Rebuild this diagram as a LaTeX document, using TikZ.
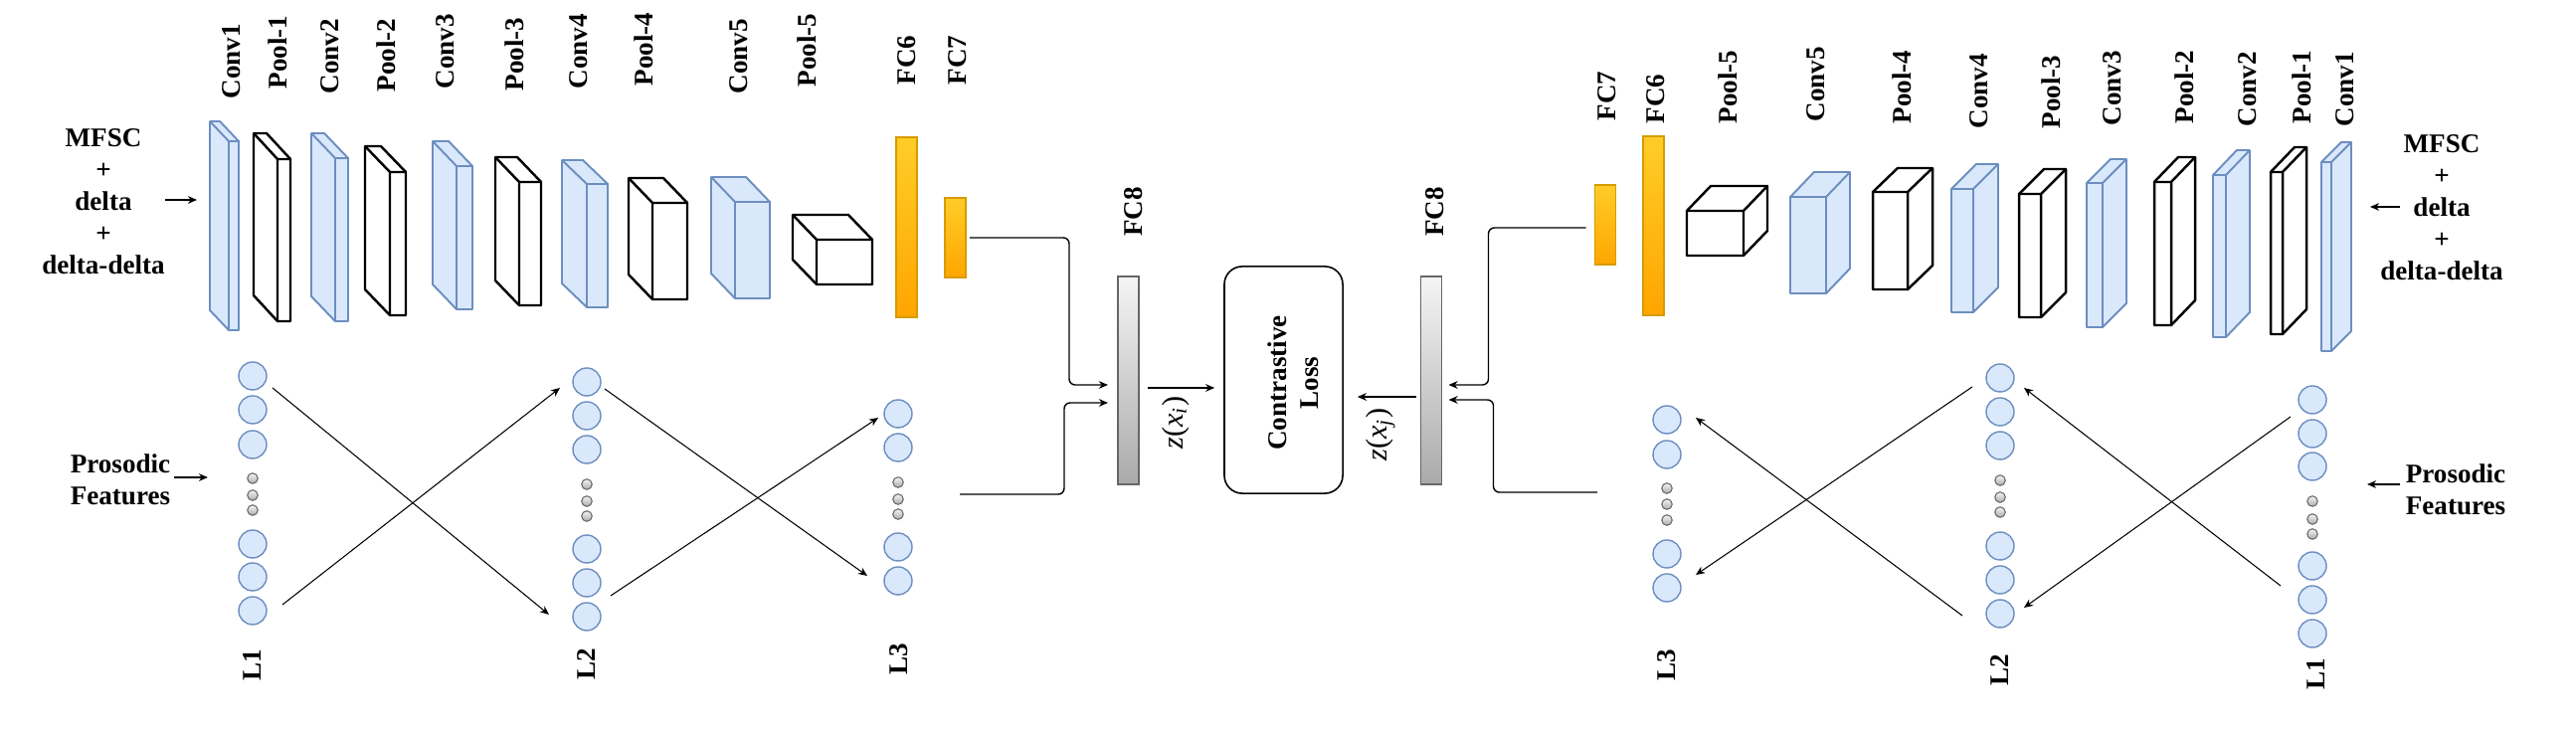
\documentclass[tikz,border=0pt]{standalone}
\usepackage{fontspec}
\setmainfont{Liberation Serif}
\usetikzlibrary{arrows.meta,calc}
\definecolor{blueF}{HTML}{DAE8FC}
\definecolor{blueD}{HTML}{6C8EBF}
\definecolor{orT}{HTML}{FFCD28}
\definecolor{orB}{HTML}{FFA500}
\definecolor{orD}{HTML}{D79B00}
\definecolor{grT}{HTML}{F5F5F5}
\definecolor{grB}{HTML}{AAAAAA}
\definecolor{grD}{HTML}{666666}
\tikzset{
  lbl/.style={font=\bfseries\fontsize{7.7}{9.1}\selectfont, inner sep=0pt},
  vlbl/.style={lbl, rotate=90},
  zlbl/.style={rotate=90, inner sep=0pt, font=\fontsize{8.6}{10}\selectfont},
  conn/.style={line width=0.4pt, -{Stealth[length=2.6pt,width=2.2pt]}},
  xline/.style={line width=0.3pt, -{Stealth[length=2.6pt,width=2.2pt]}},
  cslab/.style={fill=blueF, draw=blueD, line width=0.55pt, line join=round},
  pslab/.style={fill=white, draw=black, line width=0.7pt, line join=round},
  fcbar/.style={draw=orD, line width=0.55pt, top color=orT, bottom color=orB, minimum width=0.21cm, inner sep=0pt, outer sep=0pt},
  graybar/.style={draw=grD, line width=0.55pt, top color=grT, bottom color=grB, minimum width=0.21cm, minimum height=2.09cm, inner sep=0pt, outer sep=0pt},
  neuron/.style={circle, fill=blueF, draw=blueD, line width=0.4pt, minimum size=0.28cm, inner sep=0pt},
  dotn/.style={circle, top color=grT, bottom color=grB, draw=grD, line width=0.3pt, minimum size=0.105cm, inner sep=0pt},
}
\newcommand{\slabL}[8]{%
  \filldraw[#1] (#2-#6,#3-#7) -- (#4-#6,#3-#7) -- (#4,#3) -- (#4,#5) -- (#2,#5) -- (#2-#6,#5-#7) -- cycle;
  \draw[#1,fill=none] (#2-#6,#3-#7) -- (#2,#3) -- (#4,#3) (#2,#3) -- (#2,#5);
  \coordinate (#8) at ({(#2+#4)/2},{(#3+#5)/2});}
\newcommand{\slabR}[8]{%
  \filldraw[#1] (#2,#3) -- (#2+#6,#3-#7) -- (#4+#6,#3-#7) -- (#4+#6,#5-#7) -- (#4,#5) -- (#2,#5) -- cycle;
  \draw[#1,fill=none] (#2,#3) -- (#4,#3) -- (#4,#5) (#4,#3) -- (#4+#6,#3-#7);
  \coordinate (#8) at ({(#2+#4)/2},{(#3+#5)/2});}
\begin{document}
\begin{tikzpicture}[x=0.01cm, y=-0.01cm]
\useasboundingbox (0,0) rectangle (2590,734);

% ---------- input texts
\node[lbl, align=center] (mfscL) at (104,203) {MFSC\\+\\delta\\+\\delta-delta};
\node[lbl, align=center] (mfscR) at (2455,209) {MFSC\\+\\delta\\+\\delta-delta};
\node[lbl, align=center] (prosL) at (121,482) {Prosodic\\Features};
\node[lbl, align=center] (prosR) at (2469,492) {Prosodic\\Features};

% ---------- left CNN
\slabL{cslab}{230}{142}{240}{332}{19}{20}{cL1}
\slabL{pslab}{279}{160}{292}{323}{24}{26}{pL1}
\slabL{cslab}{337}{159}{350}{323}{24}{25}{cL2}
\slabL{pslab}{392}{173}{408}{317}{25}{26}{pL2}
\slabL{cslab}{459}{167}{475}{311}{24}{25}{cL3}
\slabL{pslab}{522}{183}{544}{307}{24}{25}{pL3}
\slabL{cslab}{590}{185}{611}{309}{25}{24}{cL4}
\slabL{pslab}{656}{204}{691}{301}{24}{25}{pL4}
\slabL{cslab}{739}{203}{774}{300}{24}{25}{cL5}
\slabL{pslab}{821}{241}{877}{286}{24}{25}{pL5}

% ---------- right CNN
\slabR{pslab}{1696}{212}{1753}{257}{24}{25}{pR5}
\slabR{cslab}{1800}{198}{1836}{295}{24}{25}{cR5}
\slabR{pslab}{1883}{193}{1918}{291}{25}{24}{pR4}
\slabR{cslab}{1962}{190}{1984}{314}{25}{25}{cR4}
\slabR{pslab}{2030}{195}{2052}{319}{25}{25}{pR3}
\slabR{cslab}{2098}{184}{2114}{329}{24}{24}{cR3}
\slabR{pslab}{2166}{183}{2183}{327}{24}{25}{pR2}
\slabR{cslab}{2225}{176}{2238}{339}{24}{25}{cR2}
\slabR{pslab}{2283}{173}{2295}{336}{24}{25}{pR1}
\slabR{cslab}{2334}{163}{2344}{353}{20}{20}{cR1}

% ---------- layer labels
\foreach \nm/\t/\x/\y in {a/Conv1/233/100, b/Pool-1/279/90, c/Conv2/332/95, d/Pool-2/388/93,
  e/Conv3/448/90, f/Pool-3/517/92, g/Conv4/582/90, h/Pool-4/647/87, i/Conv5/743/95,
  j/Pool-5/811/88, k/FC6/912/86, l/FC7/963/86}
  \node[vlbl, anchor=west] (tl\nm) at (\x,\y) {\t};
\foreach \nm/\t/\x/\y in {a/Conv1/2358/128, b/Pool-1/2314/125, c/Conv2/2260/128, d/Pool-2/2196/125,
  e/Conv3/2124/127, f/Pool-3/2062/130, g/Conv4/1990/130, h/Pool-4/1912/125, i/Conv5/1826/123,
  j/Pool-5/1737/125, k/FC6/1665/125, l/FC7/1616/122}
  \node[vlbl, anchor=west] (tr\nm) at (\x,\y) {\t};
\node[vlbl] (tfc8L) at (1140,213) {FC8};
\node[vlbl] (tfc8R) at (1443,213) {FC8};

% ---------- bars
\node[fcbar, minimum height=1.81cm] (fc6L) at (911.5,228.5) {};
\node[fcbar, minimum height=0.80cm] (fc7L) at (960.5,239) {};
\node[graybar] (fc8L) at (1134.5,382.5) {};
\node[graybar] (fc8R) at (1439,382.5) {};
\node[fcbar, minimum height=0.80cm] (fc7R) at (1614,226) {};
\node[fcbar, minimum height=1.80cm] (fc6R) at (1662.5,227) {};

% ---------- contrastive loss
\node[draw, line width=0.45pt, rounded corners=0.18cm, minimum width=1.19cm, minimum height=2.28cm, inner sep=0pt] (loss) at (1290.5,382) {};
\node[vlbl, align=center] (losstxt) at (1300,385) {Contrastive\\Loss};
\node[zlbl] (zi) at (1182,425) {\textit{z}(\textit{x}\textsubscript{\textit{i}})};
\node[zlbl] (zj) at (1388,437) {\textit{z}(\textit{x}\textsubscript{\textit{j}})};

% ---------- MLP columns
\foreach \n/\y in {1/378,2/412,3/447,4/547,5/580,6/614} \node[neuron] (la\n) at (254,\y) {};
\foreach \n/\y in {1/481,2/498,3/513} \node[dotn] (lad\n) at (254,\y) {};
\foreach \n/\y in {1/384,2/418,3/452,4/552,5/586,6/620} \node[neuron] (lb\n) at (590,\y) {};
\foreach \n/\y in {1/487,2/504,3/519} \node[dotn] (lbd\n) at (590,\y) {};
\foreach \n/\y in {1/416,2/450,3/550,4/584} \node[neuron] (lc\n) at (903,\y) {};
\foreach \n/\y in {1/485,2/502,3/517} \node[dotn] (lcd\n) at (903,\y) {};

\foreach \n/\y in {1/422,2/457,3/557,4/591} \node[neuron] (rc\n) at (1676,\y) {};
\foreach \n/\y in {1/491,2/507,3/523} \node[dotn] (rcd\n) at (1676,\y) {};
\foreach \n/\y in {1/380,2/414,3/448,4/549,5/583,6/617} \node[neuron] (rb\n) at (2011,\y) {};
\foreach \n/\y in {1/483,2/500,3/515} \node[dotn] (rbd\n) at (2011,\y) {};
\foreach \n/\y in {1/402,2/436,3/469,4/569,5/603,6/637} \node[neuron] (ra\n) at (2325,\y) {};
\foreach \n/\y in {1/504,2/522,3/537} \node[dotn] (rad\n) at (2325,\y) {};

\node[vlbl] (tL1) at (254,669) {L1};
\node[vlbl] (tL2) at (590,668) {L2};
\node[vlbl] (tL3) at (904,663) {L3};
\node[vlbl] (tR3) at (1676,669) {L3};
\node[vlbl] (tR2) at (2011,674) {L2};
\node[vlbl] (tR1) at (2329,678) {L1};

% ---------- crossing connectors
\draw[xline] ([shift={(20,12)}]la1.center) -- ([shift={(-38,-2)}]lb6.center);
\draw[xline] ([shift={(30,-6)}]la6.center) -- ([shift={(-27,6)}]lb1.center);
\draw[xline] ([shift={(18,7)}]lb1.center) -- ([shift={(-31,-5)}]lc4.center);
\draw[xline] ([shift={(24,-21)}]lb6.center) -- ([shift={(-20,4)}]lc1.center);
\draw[xline] ([shift={(-22,17)}]ra1.center) -- ([shift={(24,-6)}]rb6.center);
\draw[xline] ([shift={(-32,-14)}]ra5.center) -- ([shift={(24,10)}]rb1.center);
\draw[xline] ([shift={(-28,9)}]rb1.center) -- ([shift={(29,-13)}]rc4.center);
\draw[xline] ([shift={(-38,2)}]rb6.center) -- ([shift={(29,-2)}]rc1.center);

% ---------- input arrows
\draw[xline] ([shift={(62,-2)}]mfscL.center) -- ([shift={(94,-2)}]mfscL.center);
\draw[xline] ([shift={(-42,-1)}]mfscR.center) -- ([shift={(-72,-1)}]mfscR.center);
\draw[xline] ([shift={(54,-2)}]prosL.center) -- ([shift={(88,-2)}]prosL.center);
\draw[xline] ([shift={(-56,-5)}]prosR.center) -- ([shift={(-89,-5)}]prosR.center);

% ---------- connectors to FC8
\draw[conn, rounded corners=1.7pt] ([shift={(4,0)}]fc7L.east) -| ([shift={(-49,4.5)}]fc8L.west) -- ([shift={(-10,4.5)}]fc8L.west);
\draw[conn, rounded corners=1.7pt] ([shift={(62,-5)}]lcd2.center) -| ([shift={(-54,22.5)}]fc8L.west) -- ([shift={(-10,22.5)}]fc8L.west);
\draw[conn, rounded corners=1.7pt] ([shift={(-9,3)}]fc7R.west) -| ([shift={(47,4.5)}]fc8R.east) -- ([shift={(7,4.5)}]fc8R.east);
\draw[conn, rounded corners=1.7pt] ([shift={(-70,-12)}]rcd2.center) -| ([shift={(52,19.5)}]fc8R.east) -- ([shift={(7,19.5)}]fc8R.east);

% ---------- to loss
\draw[conn] ([shift={(9,7.5)}]fc8L.east) -- ([shift={(-9,8)}]loss.west);
\draw[conn] ([shift={(-5,16.5)}]fc8R.west) -- ([shift={(14,17)}]loss.east);
\end{tikzpicture}
\end{document}
